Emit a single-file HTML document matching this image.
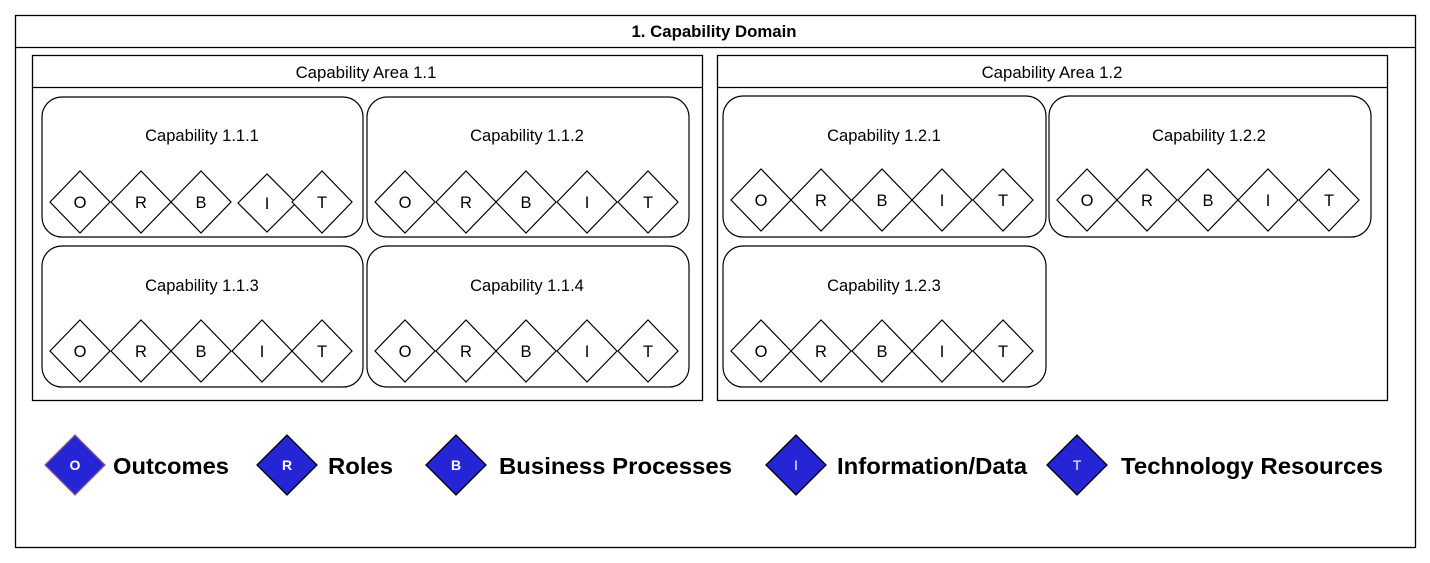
<!DOCTYPE html>
<html><head><meta charset="utf-8"><style>
html,body{margin:0;padding:0;background:#fff;}
svg{display:block;font-family:"Liberation Sans",Arial,sans-serif;}
</style></head><body>
<svg width="1430" height="563" viewBox="0 0 1430 563" xmlns="http://www.w3.org/2000/svg">
<defs>
<polygon id="d" points="-30,0 0,-31 30,0 0,31" fill="#fff" stroke="#000" stroke-width="1.2"/>
</defs>
<rect x="15.5" y="15.5" width="1400" height="532" fill="#fff" stroke="#000" stroke-width="1.3"/>
<line x1="15" y1="47.5" x2="1415" y2="47.5" stroke="#000" stroke-width="1.3"/>
<text x="714" y="37" text-anchor="middle" font-size="16.8" font-weight="bold">1. Capability Domain</text>

<rect x="32.5" y="55.5" width="670" height="345" fill="none" stroke="#000" stroke-width="1.3"/>
<line x1="32" y1="87.5" x2="702" y2="87.5" stroke="#000" stroke-width="1.3"/>
<text x="366" y="78" text-anchor="middle" font-size="16.8">Capability Area 1.1</text>
<rect x="717.5" y="55.5" width="670" height="345" fill="none" stroke="#000" stroke-width="1.3"/>
<line x1="717" y1="87.5" x2="1387" y2="87.5" stroke="#000" stroke-width="1.3"/>
<text x="1052" y="78" text-anchor="middle" font-size="16.8">Capability Area 1.2</text>

<g fill="none" stroke="#000" stroke-width="1.2">
<rect x="42" y="97" width="321" height="140" rx="20"/>
<rect x="367" y="97" width="322" height="140" rx="20"/>
<rect x="42" y="246" width="321" height="141" rx="20"/>
<rect x="367" y="246" width="322" height="141" rx="20"/>
<rect x="723" y="96" width="323" height="141" rx="20"/>
<rect x="1049" y="96" width="322" height="141" rx="20"/>
<rect x="723" y="246" width="323" height="141" rx="20"/>
</g>
<g font-size="16.5" text-anchor="middle">
<text x="202" y="141">Capability 1.1.1</text>
<text x="527" y="141">Capability 1.1.2</text>
<text x="202" y="291">Capability 1.1.3</text>
<text x="527" y="291">Capability 1.1.4</text>
<text x="884" y="141">Capability 1.2.1</text>
<text x="1209" y="141">Capability 1.2.2</text>
<text x="884" y="291">Capability 1.2.3</text>
</g>

<g><use href="#d" x="80" y="202"/><use href="#d" x="141" y="202"/><use href="#d" x="201" y="202"/>
<polygon points="238,203 267,174 296,203 267,232" fill="#fff" stroke="#000" stroke-width="1.2"/><use href="#d" x="322" y="202"/></g>
<g>
<use href="#d" x="405" y="202"/><use href="#d" x="466" y="202"/><use href="#d" x="526" y="202"/><use href="#d" x="587" y="202"/><use href="#d" x="648" y="202"/>
<use href="#d" x="80" y="351"/><use href="#d" x="141" y="351"/><use href="#d" x="201" y="351"/><use href="#d" x="262" y="351"/><use href="#d" x="322" y="351"/>
<use href="#d" x="405" y="351"/><use href="#d" x="466" y="351"/><use href="#d" x="526" y="351"/><use href="#d" x="587" y="351"/><use href="#d" x="648" y="351"/>
<use href="#d" x="761" y="200"/><use href="#d" x="821" y="200"/><use href="#d" x="882" y="200"/><use href="#d" x="942" y="200"/><use href="#d" x="1003" y="200"/>
<use href="#d" x="1087" y="200"/><use href="#d" x="1147" y="200"/><use href="#d" x="1208" y="200"/><use href="#d" x="1268" y="200"/><use href="#d" x="1329" y="200"/>
<use href="#d" x="761" y="351"/><use href="#d" x="821" y="351"/><use href="#d" x="882" y="351"/><use href="#d" x="942" y="351"/><use href="#d" x="1003" y="351"/>
</g>
<g font-size="16.5" text-anchor="middle">
<text x="80" y="208">O</text><text x="141" y="208">R</text><text x="201" y="208">B</text><text x="267" y="209">I</text><text x="322" y="208">T</text>
<text x="405" y="208">O</text><text x="466" y="208">R</text><text x="526" y="208">B</text><text x="587" y="208">I</text><text x="648" y="208">T</text>
<text x="80" y="357">O</text><text x="141" y="357">R</text><text x="201" y="357">B</text><text x="262" y="357">I</text><text x="322" y="357">T</text>
<text x="405" y="357">O</text><text x="466" y="357">R</text><text x="526" y="357">B</text><text x="587" y="357">I</text><text x="648" y="357">T</text>
<text x="761" y="206">O</text><text x="821" y="206">R</text><text x="882" y="206">B</text><text x="942" y="206">I</text><text x="1003" y="206">T</text>
<text x="1087" y="206">O</text><text x="1147" y="206">R</text><text x="1208" y="206">B</text><text x="1268" y="206">I</text><text x="1329" y="206">T</text>
<text x="761" y="357">O</text><text x="821" y="357">R</text><text x="882" y="357">B</text><text x="942" y="357">I</text><text x="1003" y="357">T</text>
</g>

<g stroke-width="1.3">
<polygon points="45,465 75,435 105,465 75,495" fill="#2525d5" stroke="#8a5a8a"/>
<polygon points="257,465 287,435 317,465 287,495" fill="#2525d5" stroke="#000"/>
<polygon points="426,465 456,435 486,465 456,495" fill="#2525d5" stroke="#000"/>
<polygon points="766,465 796,435 826,465 796,495" fill="#2525d5" stroke="#000"/>
<polygon points="1047,465 1077,435 1107,465 1077,495" fill="#2525d5" stroke="#000"/>
</g>
<g fill="#fff" font-size="14" text-anchor="middle" font-weight="bold">
<text x="75" y="470">O</text><text x="287" y="470">R</text><text x="456" y="470">B</text>
</g>
<g fill="#fff" font-size="14" text-anchor="middle">
<text x="796" y="470">I</text><text x="1077" y="470">T</text>
</g>
<g font-size="23" font-weight="bold">
<text x="113" y="474" textLength="116" lengthAdjust="spacingAndGlyphs">Outcomes</text>
<text x="328" y="474" textLength="65" lengthAdjust="spacingAndGlyphs">Roles</text>
<text x="499" y="474" textLength="233" lengthAdjust="spacingAndGlyphs">Business Processes</text>
<text x="837" y="474" textLength="190" lengthAdjust="spacingAndGlyphs">Information/Data</text>
<text x="1121" y="474" textLength="262" lengthAdjust="spacingAndGlyphs">Technology Resources</text>
</g>
</svg>
</body></html>
